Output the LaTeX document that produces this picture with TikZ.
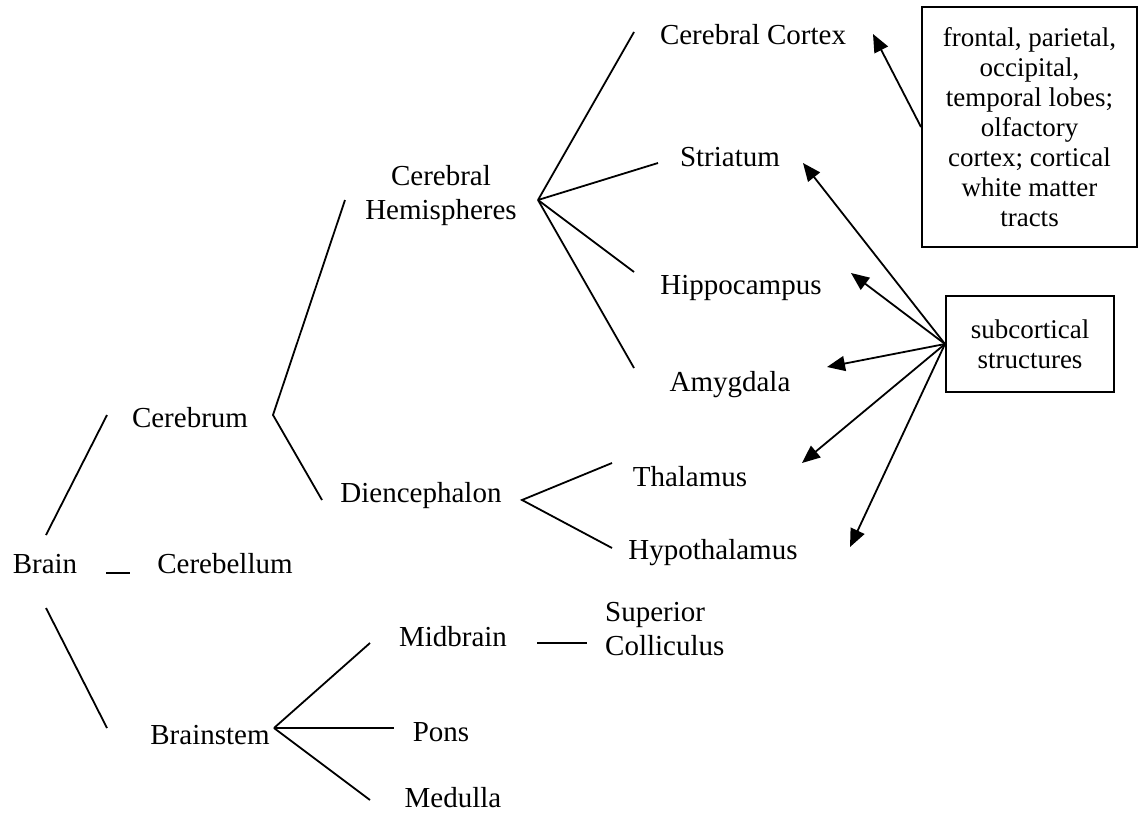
\documentclass[tikz,border=0pt]{standalone}
\usepackage{fontspec}
\setmainfont{Liberation Serif}
\usetikzlibrary{arrows.meta}
\begin{document}
\begin{tikzpicture}[x=1pt,y=-1pt,
  lbl/.style={anchor=base,inner sep=0pt,font=\fontsize{29}{34}\selectfont},
  mlbl/.style={inner sep=0pt,align=center,font=\fontsize{29}{34}\selectfont},
  infobox/.style={draw,line width=2pt,align=center,inner sep=0pt,font=\fontsize{27}{30}\selectfont},
  link/.style={line width=1.8pt},
  arr/.style={line width=1.8pt,-{Triangle[length=18pt,width=15pt]}}]
\useasboundingbox (0,0) rectangle (1144,814);
% labels
\node[lbl] (brain) at (45,573) {Brain};
\node[lbl] (cerebrum) at (190,427) {Cerebrum};
\node[lbl] (cerebellum) at (225,573) {Cerebellum};
\node[lbl] (brainstem) at (210,744) {Brainstem};
\node[mlbl] (hemi) at (441,196) {Cerebral\\Hemispheres};
\node[lbl] (dien) at (421,502) {Diencephalon};
\node[lbl] (cortex) at (753,44) {Cerebral Cortex};
\node[lbl] (striatum) at (730,166) {Striatum};
\node[lbl] (hippo) at (741,294) {Hippocampus};
\node[lbl] (amyg) at (730,391) {Amygdala};
\node[lbl] (thal) at (690,486) {Thalamus};
\node[lbl] (hypo) at (713,559) {Hypothalamus};
\node[lbl] (midbrain) at (453,646) {Midbrain};
\node[mlbl,align=left,anchor=west] (sc) at (605,629) {Superior\\Colliculus};
\node[lbl] (pons) at (441,741) {Pons};
\node[lbl] (medulla) at (453,807) {Medulla};
% boxes
\node[infobox,minimum width=215pt,minimum height=240pt] (box1) at (1029.5,127)
  {frontal, parietal,\\occipital,\\temporal lobes;\\olfactory\\cortex; cortical\\white matter\\tracts};
\node[infobox,minimum width=168pt,minimum height=96pt] (box2) at (1030,344)
  {subcortical\\structures};
% fork coordinates
\coordinate (b1) at (46,535);   \coordinate (b1e) at (107,415);
\coordinate (b2) at (106,573);  \coordinate (b2e) at (130,573);
\coordinate (b3) at (46,608);   \coordinate (b3e) at (107,728);
\coordinate (vc) at (273,415);  \coordinate (vc1) at (345,200); \coordinate (vc2) at (322,500);
\coordinate (vh) at (538,200);
\coordinate (vh1) at (634,32); \coordinate (vh2) at (658,163);
\coordinate (vh3) at (634,272); \coordinate (vh4) at (634,368);
\coordinate (vd) at (522,500); \coordinate (vd1) at (612,463); \coordinate (vd2) at (612,548);
\coordinate (vb) at (274,728); \coordinate (vb1) at (370,643);
\coordinate (vb2) at (394,728); \coordinate (vb3) at (370,800);
\coordinate (m1) at (537,643); \coordinate (m2) at (587,643);
% arrow tips
\coordinate (tcortex) at (873,34);
\coordinate (tstriatum) at (803,163);
\coordinate (thippo) at (851,273);
\coordinate (tamyg) at (827,367);
\coordinate (tthal) at (802,463);
\coordinate (thypo) at (850,547);
% tree lines
\draw[link] (b1) -- (b1e);
\draw[link] (b2) -- (b2e);
\draw[link] (b3) -- (b3e);
\draw[link] (vc1) -- (vc) -- (vc2);
\draw[link] (vh) -- (vh1);
\draw[link] (vh) -- (vh2);
\draw[link] (vh) -- (vh3);
\draw[link] (vh) -- (vh4);
\draw[link] (vd1) -- (vd) -- (vd2);
\draw[link] (vb) -- (vb1);
\draw[link] (vb) -- (vb2);
\draw[link] (vb) -- (vb3);
\draw[link] (m1) -- (m2);
% arrows
\draw[arr] (box1.west) -- (tcortex);
\draw[arr] (box2.west) -- (tstriatum);
\draw[arr] (box2.west) -- (thippo);
\draw[arr] (box2.west) -- (tamyg);
\draw[arr] (box2.west) -- (tthal);
\draw[arr] (box2.west) -- (thypo);
\end{tikzpicture}
\end{document}
